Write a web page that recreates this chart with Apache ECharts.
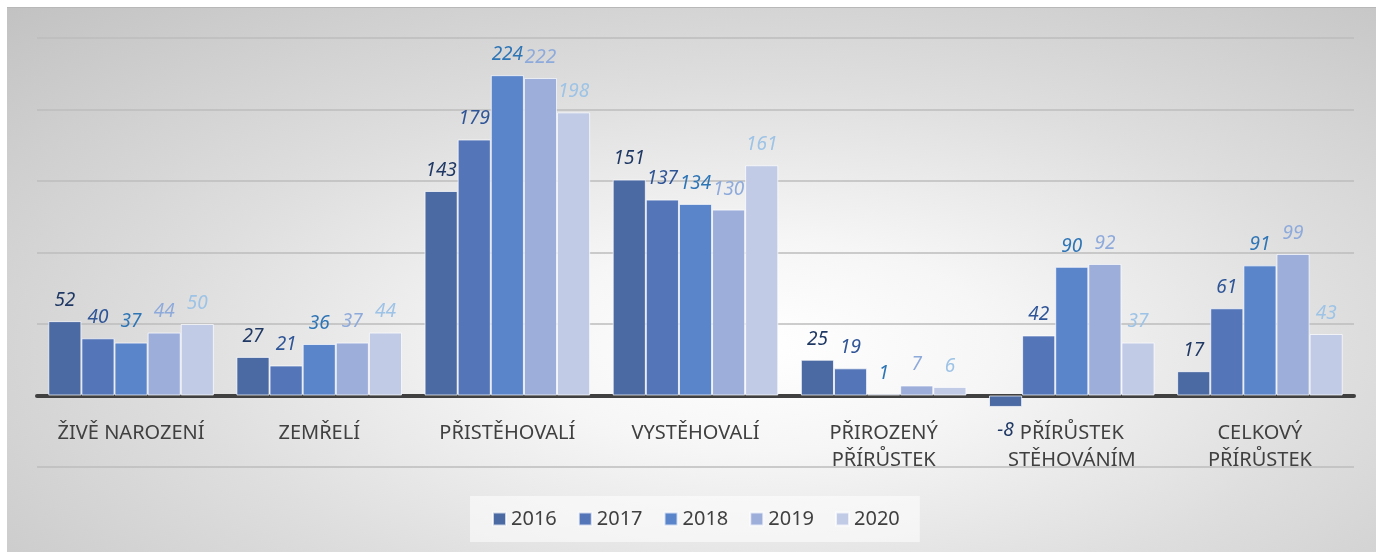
<!DOCTYPE html>
<html>
<head>
<meta charset="utf-8">
<script src="https://cdn.jsdelivr.net/npm/echarts@6/dist/echarts.min.js"></script>
<style>
  html, body { margin: 0; padding: 0; background: #fff; }
  #frame {
    position: absolute; left: 7px; top: 7px; width: 1369px; height: 545px;
    background: radial-gradient(ellipse at 55% 62%, #ffffff 0%, #f6f6f6 22%, #dedede 55%, #c2c2c2 100%);
    border-top: 1px solid #b8b8b8;
  }
  #chart { width: 1369px; height: 545px; }
</style>
</head>
<body>
<div id="frame"><div id="chart"></div></div>
<script>
const categories = ['ŽIVĚ NAROZENÍ', 'ZEMŘELÍ', 'PŘISTĚHOVALÍ', 'VYSTĚHOVALÍ',
  'PŘIROZENÝ\nPŘÍRŮSTEK', 'PŘÍRŮSTEK\nSTĚHOVÁNÍM', 'CELKOVÝ\nPŘÍRŮSTEK'];
const years = ['2016', '2017', '2018', '2019', '2020'];
const v2016 = [52, 27, 143, 151, 25, -8, 17];
const v2017 = [40, 21, 179, 137, 19, 42, 61];
const v2018 = [37, 36, 224, 134, 1, 90, 91];
const v2019 = [44, 37, 222, 130, 7, 92, 99];
const v2020 = [50, 44, 198, 161, 6, 37, 43];

const values = [v2016, v2017, v2018, v2019, v2020];
const barColors = ['#4b69a3', '#5475b8', '#5b85cb', '#9daedb', '#c1cbe6'];
const labelColors = ['#1f3864', '#2f5597', '#2e75b6', '#8eaadb', '#9dc3e6'];

const chart = echarts.init(document.getElementById('chart'));

const series = years.map(function (y, i) {
  return {
    name: y,
    type: 'bar',
    barGap: '0%',
    barCategoryGap: '12%',
    itemStyle: { color: barColors[i], borderColor: 'rgba(255,255,255,0.7)', borderWidth: 1 },
    label: {
      show: true,
      position: 'top',
      distance: 11,
      color: labelColors[i],
      fontFamily: 'Noto Sans',
      fontStyle: 'italic',
      fontSize: 19
    },
    data: values[i].map(function (v) {
      if (v < 0) return { value: v, label: { position: 'bottom', distance: 14 } };
      return v;
    })
  };
});

chart.setOption({
  backgroundColor: 'transparent',
  animation: false,
  grid: { left: 30, right: 22, top: 30, bottom: 86 },
  legend: {
    data: years,
    top: 488,
    left: 463,
    icon: 'rect',
    itemWidth: 13,
    itemHeight: 13,
    itemGap: 21,
    padding: [13, 20, 13, 22],
    backgroundColor: 'rgba(255,255,255,0.55)',
    textStyle: { color: '#404040', fontSize: 20, fontFamily: 'Noto Sans' }
  },
  xAxis: {
    type: 'category',
    data: categories,
    axisLine: { onZero: true, lineStyle: { color: '#404040', width: 4 } },
    axisTick: { show: false },
    axisLabel: {
      color: '#404040', fontSize: 20, fontFamily: 'Noto Sans',
      lineHeight: 27, margin: -47, interval: 0, hideOverlap: false
    }
  },
  yAxis: {
    type: 'value',
    min: -50,
    max: 250,
    interval: 50,
    axisLabel: { show: false },
    axisLine: { show: false },
    axisTick: { show: false },
    splitLine: { lineStyle: { color: '#bdbdbd', width: 1.5 } }
  },
  series: series
});
</script>
</body>
</html>
